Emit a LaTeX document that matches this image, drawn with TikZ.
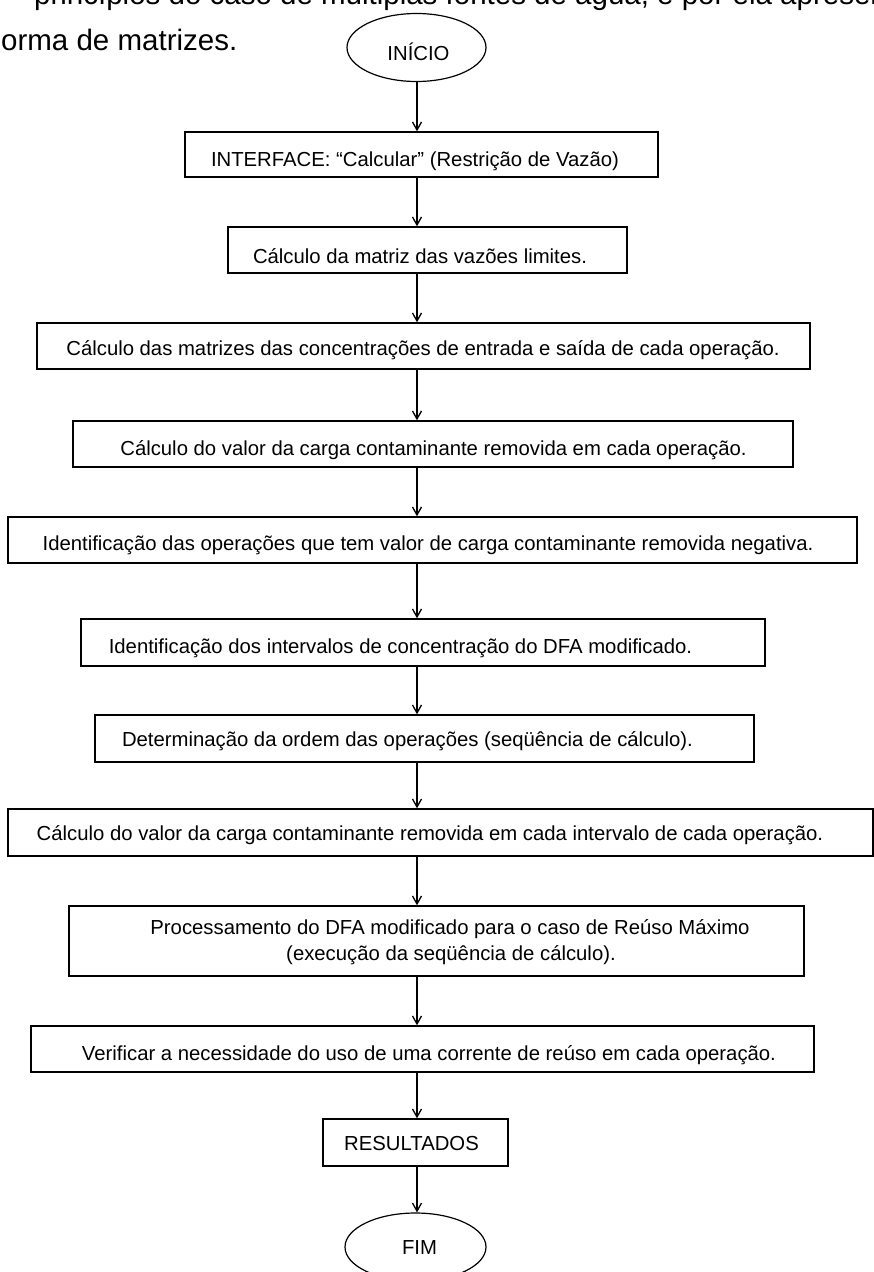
\documentclass[tikz,border=0pt]{standalone}
\usepackage{fontspec}
\setmainfont{Liberation Sans}
\usetikzlibrary{arrows.meta,shapes.geometric}
\begin{document}
\begin{tikzpicture}[x=1pt,y=-1pt,
  stepbox/.style={draw,line width=1.4pt,rectangle,inner sep=0pt},
  terminal/.style={draw,line width=1.2pt,ellipse,inner sep=0pt},
  lbl/.style={font=\fontsize{20.3}{26}\selectfont,inner sep=0pt,anchor=base},
  bodytext/.style={font=\fontsize{29.5}{44}\selectfont,inner sep=0pt,anchor=base west},
  flow/.style={line width=1.3pt,-{Straight Barb[length=8pt,width=9pt,line width=1.3pt]}}]
\useasboundingbox (0,0) rectangle (874,1272);
\clip (0,0) rectangle (874,1272);

% running text of the page around the chart
\node[bodytext] (para1) at (34,4) {princípios do caso de múltiplas fontes de água, e por ela apresentar};
\node[bodytext] (para2) at (1,50) {orma de matrizes.};

% vertical axis the connectors follow
\coordinate (spine) at (417,0);

% terminals
\node[terminal,minimum width=139pt,minimum height=68pt] (start) at (416.5,47.5) {};
\node[lbl] at (418.5,60) {INÍCIO};
\node[terminal,minimum width=141pt,minimum height=68pt] (finish) at (415.5,1247) {};
\node[lbl] at (419.5,1254) {FIM};

% process steps
\node[stepbox,minimum width=473pt,minimum height=45pt] (b1) at (421.5,154.5) {};
\node[lbl] at (415,166) {INTERFACE: “Calcular” (Restrição de Vazão)};

\node[stepbox,minimum width=399pt,minimum height=46pt] (b2) at (427.5,250) {};
\node[lbl] at (420,263) {Cálculo da matriz das vazões limites.};

\node[stepbox,minimum width=773pt,minimum height=46pt] (b3) at (423.5,346) {};
\node[lbl] at (423,355) {Cálculo das matrizes das concentrações de entrada e saída de cada operação.};

\node[stepbox,minimum width=720pt,minimum height=46pt] (b4) at (433,444) {};
\node[lbl] at (433.5,455) {Cálculo do valor da carga contaminante removida em cada operação.};

\node[stepbox,minimum width=849pt,minimum height=46pt] (b5) at (432.5,540) {};
\node[lbl] at (428,550) {Identificação das operações que tem valor de carga contaminante removida negativa.};

\node[stepbox,minimum width=684pt,minimum height=47pt] (b6) at (423,642.5) {};
\node[lbl] at (400.5,653) {Identificação dos intervalos de concentração do DFA modificado.};

\node[stepbox,minimum width=659pt,minimum height=47pt] (b7) at (424.5,738.5) {};
\node[lbl] at (407.5,746.5) {Determinação da ordem das operações (seqüência de cálculo).};

\node[stepbox,minimum width=865pt,minimum height=47pt] (b8) at (440.5,832.5) {};
\node[lbl] at (430,840) {Cálculo do valor da carga contaminante removida em cada intervalo de cada operação.};

\node[stepbox,minimum width=735pt,minimum height=70pt] (b9) at (436.5,941) {};
\node[lbl] at (450,934) {Processamento do DFA modificado para o caso de Reúso Máximo};
\node[lbl] at (451,960) {(execução da seqüência de cálculo).};

\node[stepbox,minimum width=783pt,minimum height=46pt] (b10) at (422.5,1049) {};
\node[lbl] at (429,1060) {Verificar a necessidade do uso de uma corrente de reúso em cada operação.};

\node[stepbox,minimum width=185pt,minimum height=47pt] (b11) at (415.5,1142.5) {};
\node[lbl] at (411.5,1150) {RESULTADOS};

% connectors
\draw[flow] (start.south -| spine) -- (b1.north -| spine);
\draw[flow] (b1.south -| spine) -- (b2.north -| spine);
\draw[flow] (b2.south -| spine) -- (b3.north -| spine);
\draw[flow] (b3.south -| spine) -- (b4.north -| spine);
\draw[flow] (b4.south -| spine) -- (b5.north -| spine);
\draw[flow] (b5.south -| spine) -- (b6.north -| spine);
\draw[flow] (b6.south -| spine) -- (b7.north -| spine);
\draw[flow] (b7.south -| spine) -- (b8.north -| spine);
\draw[flow] (b8.south -| spine) -- (b9.north -| spine);
\draw[flow] (b9.south -| spine) -- (b10.north -| spine);
\draw[flow] (b10.south -| spine) -- (b11.north -| spine);
\draw[flow] (b11.south -| spine) -- (finish.north -| spine);
\end{tikzpicture}
\end{document}
